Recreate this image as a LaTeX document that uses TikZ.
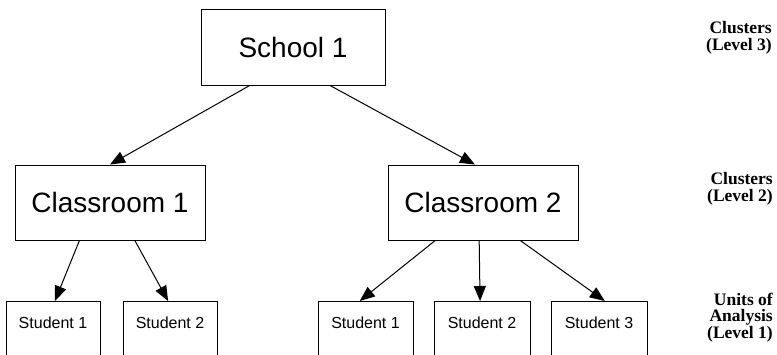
\documentclass[tikz,border=0pt]{standalone}
\usepackage{fontspec}
\setmainfont{Liberation Serif}
\newfontfamily\arialfont{Liberation Sans}
\usetikzlibrary{arrows.meta,calc}
\begin{document}
\begin{tikzpicture}[x=1pt,y=-1pt,
  box/.style={draw=black, line width=0.9pt, rectangle, inner sep=0pt, font=\arialfont\fontsize{28}{32}\selectfont},
  stubox/.style={draw=black, line width=0.9pt, rectangle, inner sep=0pt, anchor=north, minimum height=56pt},
  stulabel/.style={font=\arialfont\fontsize{16}{19}\selectfont, inner sep=0pt},
  lvl/.style={font=\bfseries\fontsize{17.5}{16.2}\selectfont, align=right, anchor=base east, inner sep=0pt},
  conn/.style={line width=1pt, -{Triangle[length=15pt,width=12pt]}}]
\useasboundingbox (0,0) rectangle (777,354);
% top level
\node[box, minimum width=184pt, minimum height=76pt] (sch) at (293,47) {School 1};
% classrooms
\node[box, minimum width=190pt, minimum height=75pt] (c1) at (110,202.5) {Classroom 1};
\node[box, minimum width=190pt, minimum height=75pt] (c2) at (483,202.5) {Classroom 2};
% students
\node[stubox, minimum width=94pt] (s11) at (53,301) {};
\node[stubox, minimum width=94pt] (s12) at (170,301) {};
\node[stubox, minimum width=95pt] (s21) at (365.5,301) {};
\node[stubox, minimum width=96pt] (s22) at (482,301) {};
\node[stubox, minimum width=96pt] (s23) at (599,301) {};
\node[stulabel] (t11) at ([yshift=-21.5pt]s11.north) {Student 1};
\node[stulabel] (t12) at ([yshift=-21.5pt]s12.north) {Student 2};
\node[stulabel] (t21) at ([yshift=-21.5pt]s21.north) {Student 1};
\node[stulabel] (t22) at ([yshift=-21.5pt]s22.north) {Student 2};
\node[stulabel] (t23) at ([yshift=-21.5pt]s23.north) {Student 3};
% connectors
\draw[conn] ($(sch.south west)!0.266!(sch.south east)$) -- ($(c1.north west)!0.5!(c1.north east)$);
\draw[conn] ($(sch.south west)!0.70!(sch.south east)$) -- ($(c2.north west)!0.458!(c2.north east)$);
\draw[conn] ($(c1.south west)!0.34!(c1.south east)$) -- ($(s11.north west)!0.52!(s11.north east)$);
\draw[conn] ($(c1.south west)!0.63!(c1.south east)$) -- ($(s12.north west)!0.48!(s12.north east)$);
\draw[conn] ($(c2.south west)!0.25!(c2.south east)$) -- ($(s21.north west)!0.44!(s21.north east)$);
\draw[conn] ($(c2.south west)!0.48!(c2.south east)$) -- ($(s22.north west)!0.48!(s22.north east)$);
\draw[conn] ($(c2.south west)!0.695!(c2.south east)$) -- ($(s23.north west)!0.56!(s23.north east)$);
% level labels (base anchor = baseline of last line)
\node[lvl] (l3) at (772,50) {Clusters\\(Level 3)};
\node[lvl] (l2) at (773,201) {Clusters\hspace{6pt}\\(Level 2)};
\node[lvl] (l1) at (773,338) {Units of\\Analysis\\(Level 1)};
\end{tikzpicture}
\end{document}
